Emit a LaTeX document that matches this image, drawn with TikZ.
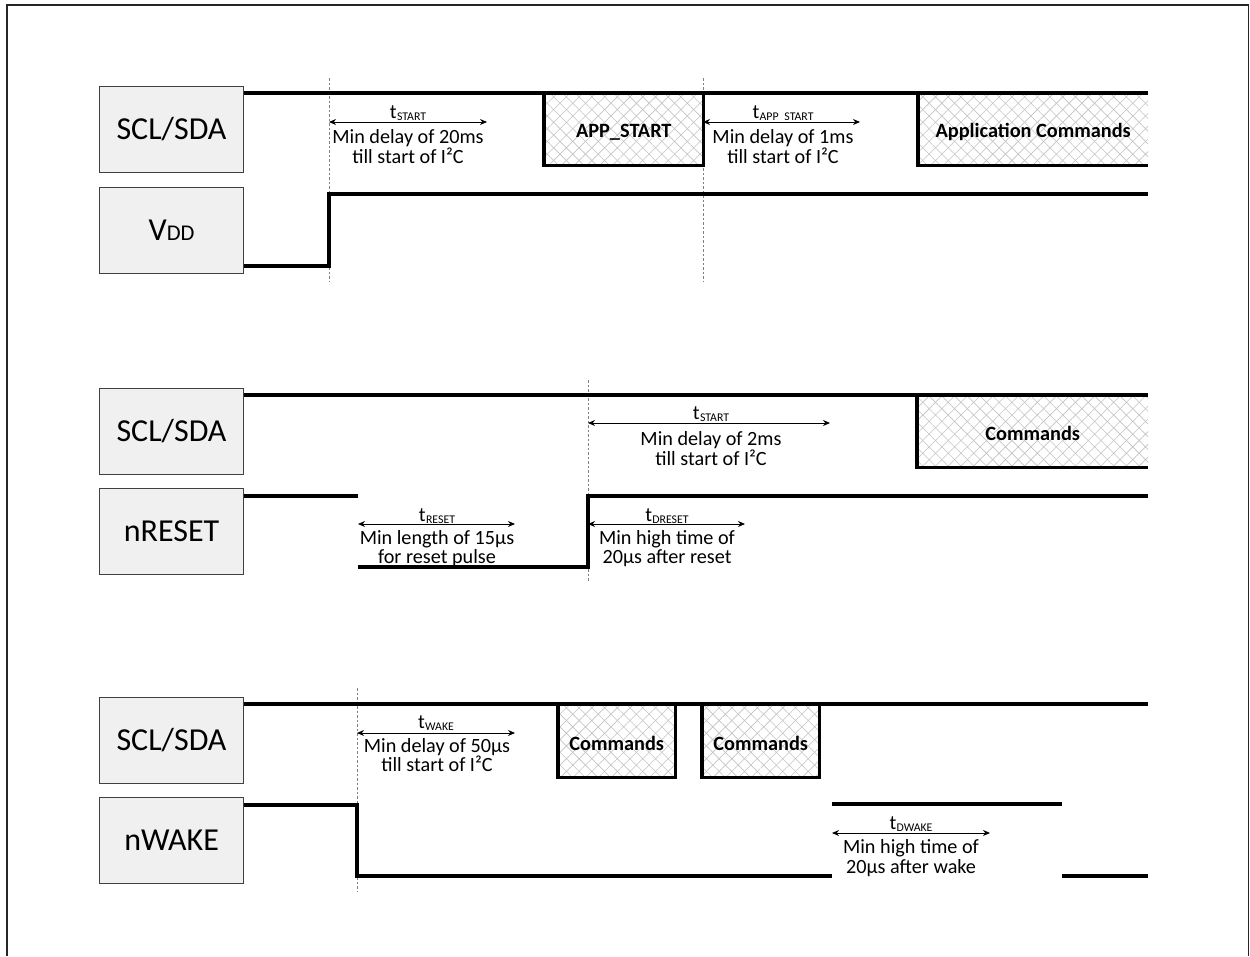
\documentclass[tikz,border=0pt]{standalone}
\usepackage{fontspec}
\setmainfont{Carlito}
\usetikzlibrary{arrows.meta,patterns.meta}
\definecolor{boxfill}{HTML}{F0F0F0}
\definecolor{boxline}{HTML}{404040}
\definecolor{hatchcol}{HTML}{C2C2C2}
\newcommand\tlab[1]{t\kern0.3pt\raisebox{-2.5pt}{\fontsize{11.8}{12}\selectfont #1}}
\begin{document}
\begin{tikzpicture}[x=1pt,y=-1pt,
  sig/.style={line width=3.3pt, line join=miter},
  sigbox/.style={draw=boxline, fill=boxfill, line width=1.1pt, minimum width=144pt, minimum height=86pt, font=\fontsize{32}{34}\selectfont, inner sep=0pt, anchor=north west},
  hatched/.style={inner sep=0pt, anchor=north west,
     preaction={pattern={Lines[angle=45,distance=9pt,line width=0.6pt]}, pattern color=hatchcol},
     pattern={Lines[angle=-45,distance=9pt,line width=0.6pt]}, pattern color=hatchcol},
  boldtxt/.style={inner sep=0pt, font=\bfseries\fontsize{20.3}{21}\selectfont},
  guide/.style={draw=gray, line width=0.6pt, dash pattern=on 2.5pt off 2pt},
  dim/.style={line width=0.9pt, {Stealth[length=7pt,width=6pt]}-{Stealth[length=7pt,width=6pt]}},
  note/.style={align=center, font=\fontsize{20.2}{19.5}\selectfont, inner sep=0pt},
  tnote/.style={font=\fontsize{20.2}{20}\selectfont, inner sep=0pt}
]
\useasboundingbox (0,0) rectangle (1250,956);
% frame
\draw[line width=1.3pt, color=black!85] (7,956)--(7,5)--(1248.5,5)--(1248.5,956);

% ================= Panel 1 =================
\node[sigbox] (scl1) at (99,86) {SCL/SDA};
\node[sigbox] (vdd) at (99,187) {V\fontsize{22.5}{22}\selectfont DD};
\coordinate (g1t) at (329,78); \coordinate (g1b) at (329,281);
\coordinate (g2t) at (703,78); \coordinate (g2b) at (703,281);
\draw[guide] (g1t)--(g1b);
\draw[guide] (g2t)--(g2b);

\node[hatched, minimum width=159pt, minimum height=72pt] (app) at (544,93) {};
\node[hatched, minimum width=230pt, minimum height=72pt] (appcmd) at (918,93) {};
\node[boldtxt] (appt) at ([yshift=-2.5pt]app.center) {APP\_START};
\node[boldtxt] (appcmdt) at ([yshift=-2.5pt]appcmd.center) {Application Commands};

\draw[sig] (scl1.east |- 0,93) -- (1148,93);
\draw[sig] (app.north west)--(app.south west)--(app.south east)--(app.north east);
\draw[sig] (appcmd.north west)--(appcmd.south west)--(appcmd.south east);
\draw[sig] (vdd.east |- 0,266) -- (329,266) -- (329,194) -- (1148,194);

\coordinate (a1l) at (329,122); \coordinate (a1r) at (487,122);
\draw[dim] (a1l)--(a1r);
\node[tnote] (t1) at (408,113) {\tlab{START}};
\node[note] (n1) at (408,146.5) {Min delay of 20ms\\till start of I²C};

\coordinate (a2l) at (703,122); \coordinate (a2r) at (860,122);
\draw[dim] (a2l)--(a2r);
\node[tnote] (t2) at (783,113) {\tlab{APP\hphantom{\_}START}};
\node[note] (n2) at (783,146.5) {Min delay of 1ms\\till start of I²C};

% ================= Panel 2 =================
\node[sigbox] (scl2) at (99,388) {SCL/SDA};
\node[sigbox] (nrst) at (99,488) {nRESET};
\coordinate (g3t) at (588,380); \coordinate (g3b) at (588,582);
\draw[guide] (g3t)--(g3b);

\node[hatched, minimum width=231pt, minimum height=72pt] (cmd2) at (917,395) {};
\node[boldtxt] (cmd2t) at ([yshift=-2.5pt]cmd2.center) {Commands};

\node[tnote] (t3) at (711,414) {\tlab{START}};
\node[note] (n3) at (711,448.5) {Min delay of 2ms\\till start of I²C};
\node[tnote] (t4) at (437,516) {\tlab{RESET}};
\node[note] (n4) at (437,548.5) {Min length of 15µs\\for reset pulse};
\node[tnote] (t5) at (667,516) {\tlab{DRESET}};
\node[note] (n5) at (667,548.5) {Min high time of\\20µs after reset};

\draw[sig] (scl2.east |- 0,395) -- (1148,395);
\draw[sig] (cmd2.north west)--(cmd2.south west)--(cmd2.south east);
\draw[sig] (nrst.east |- 0,496) -- (358,496);
\draw[sig] (358,567) -- (588,567) -- (588,496) -- (1148,496);

\coordinate (a3l) at (588,423); \coordinate (a3r) at (830,423);
\draw[dim] (a3l)--(a3r);
\coordinate (a4l) at (358,524); \coordinate (a4r) at (515,524);
\draw[dim] (a4l)--(a4r);
\coordinate (a5l) at (588,524); \coordinate (a5r) at (745,524);
\draw[dim] (a5l)--(a5r);

% ================= Panel 3 =================
\node[sigbox] (scl3) at (99,697) {SCL/SDA};
\node[sigbox] (nwake) at (99,797) {nWAKE};
\coordinate (g4t) at (357,688); \coordinate (g4b) at (357,892);
\draw[guide] (g4t)--(g4b);

\node[hatched, minimum width=117pt, minimum height=73pt] (c1) at (558,704) {};
\node[hatched, minimum width=117pt, minimum height=73pt] (c2) at (702,704) {};
\node[boldtxt] (c1t) at ([yshift=-2.5pt]c1.center) {Commands};
\node[boldtxt] (c2t) at ([yshift=-2.5pt]c2.center) {Commands};

\draw[sig] (scl3.east |- 0,704) -- (1148,704);
\draw[sig] (c1.north west)--(c1.south west)--(c1.south east)--(c1.north east);
\draw[sig] (c2.north west)--(c2.south west)--(c2.south east)--(c2.north east);
\draw[sig] (nwake.east |- 0,805) -- (357,805) -- (357,876) -- (832,876);
\draw[sig] (832,804) -- (1062,804);
\draw[sig] (1062,876) -- (1148,876);

\coordinate (a6l) at (357,733); \coordinate (a6r) at (515,733);
\draw[dim] (a6l)--(a6r);
\node[tnote] (t6) at (436,723) {\tlab{WAKE}};
\node[note] (n6) at (437,755) {Min delay of 50µs\\till start of I²C};

\coordinate (a7l) at (832,833); \coordinate (a7r) at (990,833);
\draw[dim] (a7l)--(a7r);
\node[tnote] (t7) at (911,824) {\tlab{DWAKE}};
\node[note] (n7) at (911,858) {Min high time of\\20µs after wake};
\end{tikzpicture}
\end{document}
